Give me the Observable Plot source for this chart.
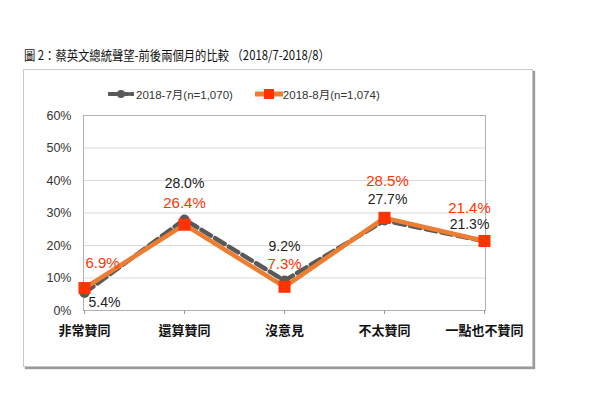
<!DOCTYPE html>
<html><head><meta charset="utf-8">
<script src="https://cdn.jsdelivr.net/npm/d3@7"></script>
<script src="https://cdn.jsdelivr.net/npm/@observablehq/plot@0.6"></script>
<style>
body{margin:0;background:#fff;font-family:"Liberation Sans","Noto Sans CJK TC",sans-serif;}
#wrap{position:relative;width:600px;height:396px;overflow:hidden;}
#title{position:absolute;left:24px;top:45px;font-size:13px;color:#111;font-family:"Noto Sans CJK TC","Liberation Sans",sans-serif;white-space:nowrap;transform:scaleX(0.87);transform-origin:0 0;}
#box{position:absolute;left:23px;top:69px;width:508px;height:296px;border:1px solid #c8c8c8;box-shadow:2px 2px 1px #9a9a9a;}
#legend{position:absolute;left:108px;top:86px;font-size:11.5px;color:#333;display:flex;align-items:center;white-space:nowrap;font-family:"Liberation Sans","Noto Sans CJK TC",sans-serif;}
.sw{display:inline-block;position:relative;width:26px;height:12px;margin-right:2px;}
#chart{position:absolute;left:0;top:0;}
</style></head>
<body><div id="wrap">
<div id="title">圖 2：蔡英文總統聲望-前後兩個月的比較 （2018/7-2018/8）</div>
<div id="box"></div>
<div id="legend"></div>
<div id="chart"></div>
</div>
<script>
const categories = ["非常贊同","還算贊同","沒意見","不太贊同","一點也不贊同"];
const july = [5.4, 28.0, 9.2, 27.7, 21.3];
const aug = [6.9, 26.4, 7.3, 28.5, 21.4];
const seriesNames = ["2018-7月(n=1,070)","2018-8月(n=1,074)"];
const yTicks = [0,10,20,30,40,50,60];

const grayC = "#595959", orangeC = "#ed7d31", redC = "#ff3300";

// legend
const lg = document.getElementById("legend");
lg.innerHTML = `
<span class="sw"><svg width="26" height="12"><line x1="1" y1="6" x2="25" y2="6" stroke="${grayC}" stroke-width="4" stroke-dasharray="8,3" stroke-linecap="round"/><circle cx="13" cy="6" r="4" fill="${grayC}"/></svg></span>
<span>${seriesNames[0]}</span>
<span style="display:inline-block;width:22px"></span>
<span class="sw"><svg width="28" height="12"><line x1="1" y1="6" x2="27" y2="6" stroke="${orangeC}" stroke-width="5" stroke-linecap="round"/><rect x="9" y="1" width="10" height="10" fill="${redC}"/></svg></span>
<span>${seriesNames[1]}</span>`;

const julyData = categories.map((c,i)=>({c, v: july[i], i}));
const augData = categories.map((c,i)=>({c, v: aug[i], i}));

// label offsets (pixels) per category: [dx, dy]
const julyOff = [[20,10],[0,-36],[0,-34],[3,-21],[-15,-17]];
const augOff = [[18,-25],[0,-22],[0,-23],[3,-37],[-15,-33]];

const labelMarks = [];
julyData.forEach((d,i)=>{
  labelMarks.push(Plot.text([d], {x:"c", y:"v", text: d=>d.v.toFixed(1)+"%", dx: julyOff[i][0], dy: julyOff[i][1], fill:"#222", fontSize:14}));
});
augData.forEach((d,i)=>{
  labelMarks.push(Plot.text([d], {x:"c", y:"v", text: d=>d.v.toFixed(1)+"%", dx: augOff[i][0], dy: augOff[i][1], fill:redC, fontSize:15, fontWeight:"500"}));
});

const chart = Plot.plot({
  width: 600, height: 396,
  marginLeft: 83, marginRight: 115, marginTop: 115, marginBottom: 86,
  style: {fontFamily: '"Liberation Sans","Noto Sans CJK TC",sans-serif', background: "transparent", overflow:"visible"},
  x: {type: "point", domain: categories, padding: 0, label: null},
  y: {domain: [0, 60], ticks: yTicks, label: null},
  marks: [
    Plot.gridY(yTicks.filter(t=>t>0 && t<60), {stroke:"#d9d9d9", strokeOpacity:1}),
    Plot.frame({stroke:"#b0b0b0"}),
    Plot.axisY({ticks: yTicks, tickSize: 0, tickPadding: 12, tickFormat: d=>d+"%", fontSize: 12.5, fill:"#333", label:null}),
    Plot.axisX({tickSize: 4, tickPadding: 11, fontSize: 13, fill:"#111", fontWeight:"bold", stroke:"#999", label:null}),
    Plot.line(julyData, {x:"c", y:"v", stroke: grayC, strokeWidth: 4.5, strokeDasharray: "11,5"}),
    Plot.dot(julyData, {x:"c", y:"v", r: 5, fill: grayC}),
    Plot.line(augData, {x:"c", y:"v", stroke: orangeC, strokeWidth: 4.5}),
    Plot.dot(augData, {x:"c", y:"v", symbol:"square", r: 6.8, fill: redC}),
    ...labelMarks
  ]
});
document.getElementById("chart").appendChild(chart);
</script>
</body></html>
